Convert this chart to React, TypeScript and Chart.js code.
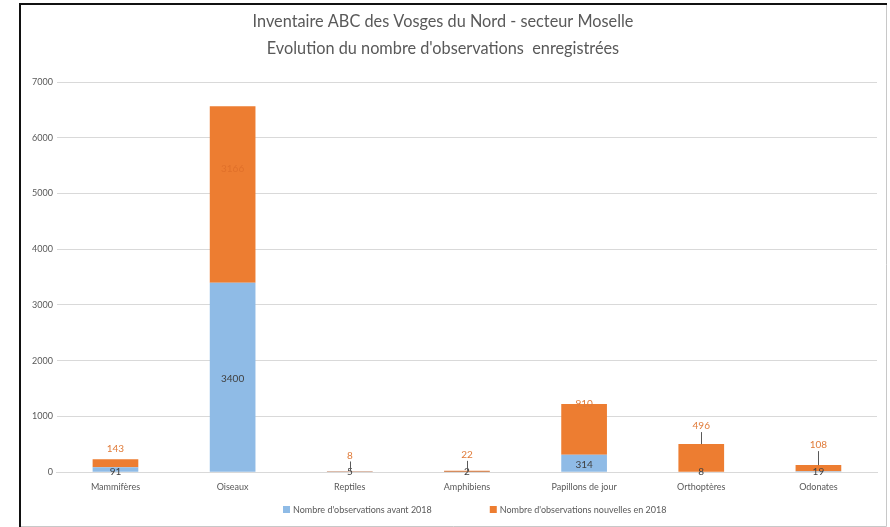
import React, { useEffect, useRef } from "react";
import { Chart, registerables } from "chart.js";

Chart.register(...registerables);

const categories = ["Mammifères", "Oiseaux", "Reptiles", "Amphibiens", "Papillons de jour", "Orthoptères", "Odonates"];
const avant2018 = [91, 3400, 5, 2, 314, 8, 19];
const nouvelles2018 = [143, 3166, 8, 22, 910, 496, 108];
const yTicks = [0, 1000, 2000, 3000, 4000, 5000, 6000, 7000];
const titleLines = ["Inventaire ABC des Vosges du Nord - secteur Moselle", "Evolution du nombre d'observations  enregistrées"];
const seriesNames = ["Nombre d'observations avant 2018", "Nombre d'observations nouvelles en 2018"];

// label placement (styling): offset from bar top in px, and whether a leader line is drawn
const newLabelOffset = [-10, 63, -16, -16, 0, -18, -20];
const newLabelLeader = [false, false, true, true, false, true, true];

const FONT = "Lato, 'Open Sans', sans-serif";
const BLUE = "#8FBBE6";
const ORANGE = "#ED7D31";

const framePlugin = {
  id: "frame",
  beforeDraw(chart: any) {
    const { ctx, width, height } = chart;
    ctx.save();
    ctx.fillStyle = "#ffffff";
    ctx.fillRect(0, 0, width, height);
    ctx.strokeStyle = "#c8c8c8";
    ctx.lineWidth = 1;
    ctx.beginPath();
    ctx.moveTo(886.5, 3);
    ctx.lineTo(886.5, 526.5);
    ctx.lineTo(20, 526.5);
    ctx.stroke();
    ctx.strokeStyle = "#111111";
    ctx.lineWidth = 2;
    ctx.beginPath();
    ctx.moveTo(20, 527);
    ctx.lineTo(20, 4);
    ctx.lineTo(887, 4);
    ctx.stroke();
    ctx.fillStyle = "#595959";
    ctx.font = "16.3px " + FONT;
    ctx.textAlign = "center";
    ctx.textBaseline = "middle";
    ctx.fillText(titleLines[0], 443, 22);
    ctx.fillText(titleLines[1], 443, 49);
    ctx.restore();
  },
  afterDraw(chart: any) {
    // legend
    const { ctx } = chart;
    ctx.save();
    ctx.font = "9px " + FONT;
    ctx.textBaseline = "middle";
    ctx.textAlign = "left";
    const colors = [BLUE, ORANGE];
    const box = 7;
    const gapBoxText = 3;
    const gapItems = 58;
    let x = 283;
    const yMid = 510;
    seriesNames.forEach((s, i) => {
      ctx.fillStyle = colors[i];
      ctx.fillRect(x, yMid - 4, box, box);
      ctx.fillStyle = "#595959";
      ctx.fillText(s, x + box + gapBoxText, yMid);
      x += box + gapBoxText + ctx.measureText(s).width + gapItems;
    });
    ctx.restore();
  },
};

const labelPlugin = {
  id: "barLabels",
  afterDatasetsDraw(chart: any) {
    const { ctx } = chart;
    const y = chart.scales.y;
    const zeroY = y.getPixelForValue(0);
    const m0 = chart.getDatasetMeta(0);
    const m1 = chart.getDatasetMeta(1);
    ctx.save();
    ctx.textAlign = "center";
    ctx.textBaseline = "middle";
    ctx.font = "10px " + FONT;
    m0.data.forEach((bar: any, i: number) => {
      const h = zeroY - bar.y;
      const ly = h < 12 ? zeroY : (bar.y + zeroY) / 2 + 1;
      ctx.fillStyle = "#404040";
      ctx.fillText(String(avant2018[i]), bar.x, ly);
    });
    m1.data.forEach((bar: any, i: number) => {
      const ly = bar.y + newLabelOffset[i];
      if (newLabelLeader[i]) {
        ctx.strokeStyle = "#595959";
        ctx.lineWidth = 1;
        ctx.beginPath();
        ctx.moveTo(Math.round(bar.x) + 0.5, ly + 6);
        ctx.lineTo(Math.round(bar.x) + 0.5, bar.y);
        ctx.stroke();
      }
      ctx.fillStyle = i === 1 ? "#E0702A" : "#E07B39";
      ctx.fillText(String(nouvelles2018[i]), bar.x, ly);
    });
    ctx.restore();
  },
};

export default function App() {
  const ref = useRef<HTMLCanvasElement | null>(null);
  useEffect(() => {
    document.body.style.margin = "0";
    const canvas = ref.current!;
    const chart = new Chart(canvas, {
      type: "bar",
      data: {
        labels: categories,
        datasets: [
          { label: seriesNames[0], data: avant2018, backgroundColor: BLUE, barPercentage: 0.39, categoryPercentage: 1 },
          { label: seriesNames[1], data: nouvelles2018, backgroundColor: ORANGE, barPercentage: 0.39, categoryPercentage: 1 },
        ],
      },
      options: {
        animation: false,
        responsive: false,
        maintainAspectRatio: false,
        layout: { padding: { left: 28, right: 13, top: 82, bottom: 26 } },
        plugins: {
          title: { display: false },
          tooltip: { enabled: false },
          legend: { display: false },
        },
        scales: {
          x: {
            stacked: true,
            grid: { display: false, drawTicks: false },
            border: { display: true, color: "#d9d9d9" },
            ticks: { color: "#595959", font: { size: 9, family: FONT }, padding: 9, maxRotation: 0 },
          },
          y: {
            stacked: true,
            min: 0,
            max: 7000,
            afterBuildTicks: (axis: any) => {
              axis.ticks = yTicks.map((v) => ({ value: v }));
            },
            grid: { color: "#d9d9d9", drawTicks: false },
            border: { display: false },
            ticks: { color: "#595959", font: { size: 9, family: FONT }, padding: 4, callback: (v: any) => String(v) },
          },
        },
      },
      plugins: [framePlugin, labelPlugin],
    });
    return () => chart.destroy();
  }, []);
  return <canvas ref={ref} width={890} height={527} style={{ display: "block" }} />;
}
